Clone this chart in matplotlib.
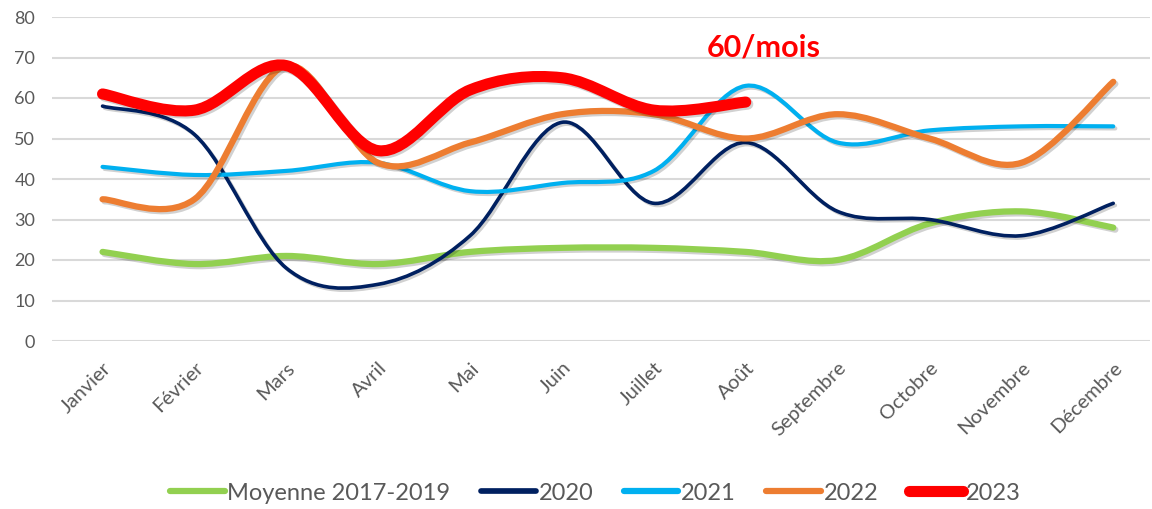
import matplotlib
matplotlib.use("Agg")
import matplotlib.pyplot as plt
import matplotlib.patheffects as pe
from matplotlib.path import Path
from matplotlib.patches import PathPatch
from matplotlib.lines import Line2D

mois = ["Janvier", "Février", "Mars", "Avril", "Mai", "Juin", "Juillet",
        "Août", "Septembre", "Octobre", "Novembre", "Décembre"]

moyenne_2017_2019 = [22, 19, 21, 19, 22, 23, 23, 22, 20, 29, 32, 28]
serie_2020 = [58, 51, 18, 14, 26, 54, 34, 49, 32, 30, 26, 34]
serie_2021 = [43, 41, 42, 44, 37, 39, 42, 63, 49, 52, 53, 53]
serie_2022 = [35, 35, 68, 44, 49, 56, 56, 50, 56, 50, 44, 64]
serie_2023 = [61, 57, 68, 47, 62, 65, 57, 59]

series = [
    ("Moyenne 2017-2019", moyenne_2017_2019, "#92D050", 4.5),
    ("2020", serie_2020, "#002060", 2.6),
    ("2021", serie_2021, "#00B0F0", 3.0),
    ("2022", serie_2022, "#ED7D31", 4.5),
    ("2023", serie_2023, "#FF0000", 8.0),
]

plt.rcParams["font.family"] = ["Lato", "DejaVu Sans"]


def smooth_path(xs, ys):
    # courbe lissée façon Excel (Bézier de type Catmull-Rom)
    pts = list(zip(xs, ys))
    verts = [pts[0]]
    codes = [Path.MOVETO]
    n = len(pts)
    for i in range(n - 1):
        p0 = pts[i - 1] if i > 0 else pts[i]
        p1 = pts[i]
        p2 = pts[i + 1]
        p3 = pts[i + 2] if i + 2 < n else pts[i + 1]
        c1 = (p1[0] + (p2[0] - p0[0]) / 6, p1[1] + (p2[1] - p0[1]) / 6)
        c2 = (p2[0] - (p3[0] - p1[0]) / 6, p2[1] - (p3[1] - p1[1]) / 6)
        verts += [c1, c2, p2]
        codes += [Path.CURVE4] * 3
    return Path(verts, codes)


fig = plt.figure(figsize=(11.52, 5.09), dpi=100)
ax = fig.add_axes([52 / 1152, 1 - 341 / 509, 1098 / 1152, 324 / 509])

shadow = [pe.SimpleLineShadow(offset=(1.5, -1.5), alpha=0.18, shadow_color="black"), pe.Normal()]
for label, values, color, lw in series:
    path = smooth_path(range(len(values)), values)
    patch = PathPatch(path, facecolor="none", edgecolor=color, linewidth=lw,
                      capstyle="round", joinstyle="round", zorder=3)
    patch.set_path_effects(shadow)
    ax.add_patch(patch)

ax.set_xlim(-0.55, 11.4)
ax.set_ylim(0, 80)
ax.set_yticks(range(0, 81, 10))
ax.set_xticks(range(len(mois)))
ax.set_xticklabels(mois, rotation=45, ha="right", rotation_mode="anchor")
ax.tick_params(axis="both", length=0, labelsize=13, colors="#595959")
ax.tick_params(axis="x", pad=13, labelsize=14.5)
ax.tick_params(axis="y", pad=12)
ax.grid(axis="y", color="#D9D9D9", linewidth=1.5)
ax.set_axisbelow(True)
for s in ax.spines.values():
    s.set_visible(False)

ax.text(7.2, 72.5, "60/mois", color="#FF0000", fontsize=22, fontweight="bold",
        ha="center", va="center")

handles = [Line2D([0], [0], color=c, linewidth=lw if lw > 4 else lw + 1.5,
                  solid_capstyle="round") for _, _, c, lw in series]
fig.legend(handles, [s[0] for s in series], loc="center", bbox_to_anchor=(0.517, 1 - 493 / 509),
           ncol=5, frameon=False, fontsize=17, handlelength=2.3, handletextpad=0.12,
           columnspacing=1.3, labelcolor="#595959")

fig.savefig("out.png", dpi=100)
